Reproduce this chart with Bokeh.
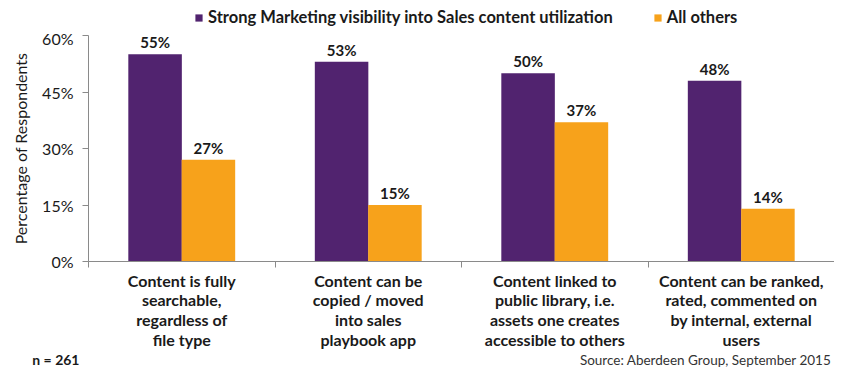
from bokeh.plotting import figure
from bokeh.layouts import column
from bokeh.models import ColumnDataSource, FixedTicker, Legend, LegendItem
from bokeh.embed import file_html
from bokeh.resources import INLINE
from bokeh.core.properties import value

categories = [
    "Content is fully\nsearchable,\nregardless of\nfile type",
    "Content can be\ncopied / moved\ninto sales\nplaybook app",
    "Content linked to\npublic library, i.e.\nassets one creates\naccessible to others",
    "Content can be ranked,\nrated, commented on\nby internal, external\nusers",
]
strong = [55, 53, 50, 48]
others = [27, 15, 37, 14]
series_names = ["Strong Marketing visibility into Sales content utilization", "All others"]
y_ticks = [0, 15, 30, 45, 60]
y_tick_labels = ["0%", "15%", "30%", "45%", "60%"]
footnote_left = "n = 261"
footnote_right = "Source: Aberdeen Group, September 2015"

PURPLE = "#51236F"
ORANGE = "#F7A21B"
FONT = "Lato"
TXT = "#1a1a1a"
AXC = "#8a8a8a"

W = 834
H_LEG, H_FOOT = 28, 16
H_MAIN = 367 - H_LEG - H_FOOT
LEFT = 88
AX_TOP, AX_BOT = 35, 262          # page rows of 60% and 0%
TOP = AX_TOP - H_LEG
BOTTOM = H_MAIN - (AX_BOT - H_LEG)

# ---------- legend strip ----------
lg = figure(width=W, height=H_LEG, x_range=(LEFT, W), y_range=(0, 1),
            output_backend="svg", toolbar_location=None,
            x_axis_location=None, y_axis_location=None,
            min_border_left=LEFT, min_border_right=0, min_border_top=0, min_border_bottom=0)
lg.grid.visible = False
lg.outline_line_color = None
# zero-height swatch carriers (draw nothing in the strip, only feed the legend)
d1 = lg.vbar(x=[400], top=[0], width=1, fill_color=PURPLE, line_color=None)
d2 = lg.vbar(x=[400], top=[0], width=1, fill_color=ORANGE, line_color=None)
legend = Legend(items=[LegendItem(label=series_names[0], renderers=[d1]),
                       LegendItem(label=series_names[1], renderers=[d2])],
                orientation="horizontal", location=(194 - LEFT, 1),
                background_fill_alpha=0, border_line_color=None,
                label_text_font=FONT, label_text_font_style="bold",
                label_text_font_size="16.5px", label_text_color=TXT,
                glyph_width=9, glyph_height=9, label_standoff=5, spacing=40,
                padding=0, margin=0)
lg.add_layout(legend, "center")

# ---------- main chart ----------
p = figure(width=W, height=H_MAIN, x_range=(0, 4), y_range=(0, 60),
           output_backend="svg", toolbar_location=None,
           min_border_left=LEFT, min_border_right=0, min_border_top=TOP,
           min_border_bottom=BOTTOM)
p.outline_line_color = None
p.xgrid.visible = False
p.ygrid.visible = False

centers = [i + 0.5 for i in range(len(categories))]
off = 0.143
bw = 0.287
src_s = ColumnDataSource(dict(x=[c - off for c in centers], top=strong,
                              lab=[f"{v}%" for v in strong]))
src_o = ColumnDataSource(dict(x=[c + off for c in centers], top=others,
                              lab=[f"{v}%" for v in others]))
p.vbar(x="x", top="top", width=bw, source=src_s, fill_color=PURPLE, line_color=None)
p.vbar(x="x", top="top", width=bw, source=src_o, fill_color=ORANGE, line_color=None)
for s in (src_s, src_o):
    p.text(x="x", y="top", text="lab", source=s, text_align="center", text_baseline="bottom",
           y_offset=-3, text_font=value(FONT), text_font_style="bold",
           text_font_size="15px", text_color=TXT)

ya = p.yaxis[0]
ya.ticker = FixedTicker(ticks=y_ticks)
ya.major_label_overrides = {t: l for t, l in zip(y_ticks, y_tick_labels)}
ya.axis_line_color = AXC
ya.major_tick_line_color = AXC
ya.major_tick_in = 0
ya.major_tick_out = 6
ya.minor_tick_line_color = None
ya.major_label_text_font = FONT
ya.major_label_text_font_size = "16px"
ya.major_label_text_color = TXT
ya.major_label_standoff = 9
ya.axis_label = "Percentage of Respondents"
ya.axis_label_text_font = FONT
ya.axis_label_text_font_size = "16px"
ya.axis_label_text_font_style = "normal"
ya.axis_label_text_color = TXT
ya.axis_label_standoff = 9

xa = p.xaxis[0]
xa.ticker = FixedTicker(ticks=centers, minor_ticks=[0, 1, 2, 3, 4])
xa.major_label_overrides = {c: l for c, l in zip(centers, categories)}
xa.axis_line_color = AXC
xa.major_tick_line_color = None
xa.minor_tick_line_color = AXC
xa.minor_tick_in = 0
xa.minor_tick_out = 6
xa.major_label_text_font = FONT
xa.major_label_text_font_size = "16px"
xa.major_label_text_font_style = "bold"
xa.major_label_text_color = TXT
xa.major_label_text_line_height = 1.04
xa.major_label_standoff = 3

# ---------- footnote strip ----------
f = figure(width=W, height=H_FOOT, x_range=(LEFT, W), y_range=(0, H_FOOT),
           output_backend="svg", toolbar_location=None,
           x_axis_location=None, y_axis_location="left",
           min_border_left=LEFT, min_border_right=0, min_border_top=0, min_border_bottom=0)
f.grid.visible = False
f.outline_line_color = None
fa = f.yaxis[0]
fa.ticker = FixedTicker(ticks=[])
fa.axis_line_color = None
fa.major_tick_line_color = None
fa.minor_tick_line_color = None
fa.axis_label = footnote_left
fa.axis_label_orientation = "horizontal"
fa.axis_label_text_font = FONT
fa.axis_label_text_font_style = "bold"
fa.axis_label_text_font_size = "14px"
fa.axis_label_text_color = TXT
fa.axis_label_standoff = 9
f.text(x=[W - 3], y=[H_FOOT / 2], text=[footnote_right], text_align="right",
       text_baseline="middle", text_font=value(FONT), text_font_size="13.5px",
       text_color="#333333")

layout = column(lg, p, f, spacing=0)
open("out.html", "w").write(file_html(layout, INLINE))
